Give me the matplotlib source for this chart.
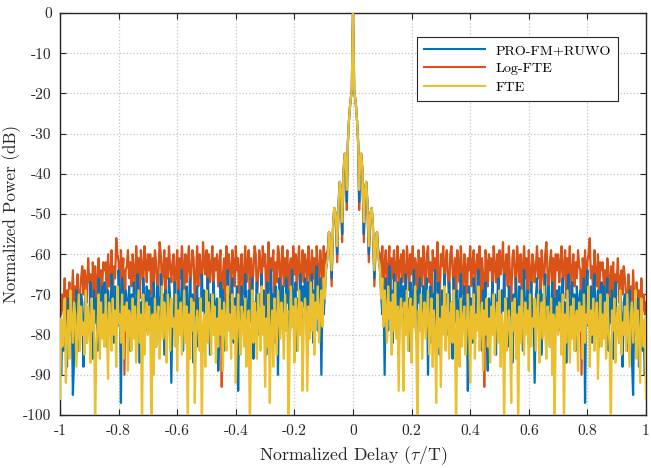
import numpy as np
import matplotlib
matplotlib.use('Agg')
import matplotlib.pyplot as plt

plt.rcParams['font.family'] = 'serif'
plt.rcParams['font.serif'] = ['cmr10']
plt.rcParams['mathtext.fontset'] = 'cm'
plt.rcParams['axes.unicode_minus'] = False
plt.rcParams['axes.formatter.use_mathtext'] = True

# positive-lag half of each autocorrelation (the curves are symmetric in tau)
# main lobe + near sidelobes
center_lags = [0, 0.002, 0.004, 0.007, 0.010, 0.014, 0.018, 0.021, 0.025, 0.028, 0.032, 0.037,
               0.041, 0.045, 0.049, 0.054, 0.059, 0.064, 0.068, 0.073, 0.078, 0.082, 0.086]
pro_fm_center = [0, -8, -19, -21, -23, -27, -33, -47, -36, -35, -39, -55,
                 -44, -42, -47, -60, -50, -48.5, -53, -66, -56, -54.5, -60]
log_fte_center = [0, -8, -19, -21, -23, -27, -33, -49, -36, -35, -39, -57,
                  -44, -42, -47, -62, -50, -48.5, -53, -68, -56, -54.5, -59]
fte_center = [0, -8, -19, -21, -23, -27, -33, -44, -36, -35, -39, -52,
              -44, -42, -47, -58, -50, -48.5, -53, -64, -56, -54.5, -61]

# sidelobe floor, lags 0.092 ... 1.0 in steps of 0.004
floor_start = 0.092
floor_step = 0.004

pro_fm_floor = [
    -64, -70, -75, -68, -90, -66, -72, -79, -63, -74, -69, -82, -65, -71, -77, -67, -85, -70, -66,
    -73, -68, -80, -65, -76, -71, -84, -67, -70, -78, -64, -74, -81, -69, -72, -66, -79, -75, -68,
    -71, -77, -66, -90, -73, -68, -82, -70, -75, -64, -79, -72, -67, -85, -74, -69, -78, -65, -76,
    -70, -80, -67, -74, -72, -86, -66, -77, -71, -69, -83, -73, -65, -78, -75, -68, -81, -72, -94,
    -68, -75, -71, -82, -66, -73, -79, -70, -64, -77, -72, -84, -69, -74, -67, -80, -89, -71, -76,
    -73, -67, -78, -70, -85, -72, -66, -76, -81, -69, -74, -65, -79, -71, -83, -68, -75, -72, -87,
    -70, -77, -66, -73, -80, -68, -75, -71, -84, -64, -78, -72, -69, -82, -74, -67, -79, -73, -92,
    -71, -66, -78, -73, -69, -85, -70, -76, -65, -80, -72, -68, -83, -74, -67, -77, -71, -79, -69,
    -74, -68, -79, -71, -66, -76, -72, -87, -69, -65, -81, -73, -67, -78, -70, -84, -68, -75, -72,
    -69, -76, -71, -66, -97, -70, -64, -78, -73, -68, -82, -71, -65, -77, -74, -69, -83, -70, -67,
    -75, -68, -80, -72, -66, -84, -71, -77, -69, -86, -73, -67, -79, -74, -82, -70, -76, -88, -72,
    -70, -78, -74, -83, -69, -76, -86, -95, -72, -80, -75, -71, -88, -77, -73, -84, -79, -90, -76,
]

log_fte_floor = [
    -60, -66, -58, -70, -62, -59, -68, -64, -58, -73, -61, -66, -59, -71, -63, -58, -69, -62, -60,
    -67, -59, -64, -72, -58, -62, -69, -60, -65, -58, -74, -61, -63, -70, -59, -66, -61, -68, -58,
    -63, -70, -60, -58, -67, -62, -76, -59, -64, -61, -69, -57, -65, -72, -60, -63, -58, -68, -62,
    -59, -66, -71, -60, -58, -64, -69, -61, -73, -59, -62, -67, -58, -65, -70, -60, -63, -78, -61,
    -64, -58, -68, -62, -59, -71, -63, -60, -66, -58, -72, -61, -65, -93, -59, -62, -68, -60, -64,
    -61, -69, -58, -63, -67, -60, -74, -59, -65, -62, -57, -70, -63, -60, -68, -58, -66, -72, -61,
    -59, -64, -70, -58, -62, -67, -60, -71, -63, -58, -66, -61, -69, -59, -64, -75, -60, -62, -67,
    -63, -58, -66, -61, -72, -59, -64, -68, -60, -57, -65, -70, -62, -59, -67, -61, -73, -60, -64,
    -60, -67, -62, -58, -69, -63, -59, -71, -61, -65, -58, -70, -64, -60, -68, -62, -66, -59, -63,
    -64, -90, -61, -67, -59, -70, -62, -60, -56, -66, -63, -71, -59, -65, -68, -60, -73, -62, -64,
    -62, -68, -64, -71, -61, -66, -73, -63, -69, -62, -75, -65, -67, -61, -72, -66, -64, -70, -63,
    -66, -70, -84, -65, -73, -68, -76, -64, -71, -78, -67, -72, -69, -77, -66, -74, -70, -75, -72,
]

fte_floor = [
    -63, -71, -66, -78, -69, -74, -82, -68, -76, -72, -85, -70, -79, -67, -81, -73, -94, -75, -71,
    -77, -94, -72, -80, -69, -84, -75, -71, -87, -73, -78, -68, -82, -104, -74, -79, -70, -86, -76,
    -72, -81, -75, -69, -85, -77, -71, -88, -74, -79, -97, -70, -83, -76, -93, -73, -80, -68, -84,
    -75, -70, -86, -78, -72, -82, -69, -80, -104, -74, -77, -88, -71, -83, -76, -73, -85, -79, -70,
    -78, -92, -73, -81, -70, -86, -75, -79, -68, -84, -77, -72, -89, -74, -80, -71, -83, -76, -87,
    -73, -80, -70, -85, -76, -72, -82, -69, -88, -75, -78, -104, -71, -84, -77, -74, -81, -97, -72,
    -79, -71, -86, -75, -104, -73, -82, -69, -77, -85, -72, -80, -74, -89, -70, -83, -76, -78, -71,
    -84, -74, -70, -87, -77, -72, -81, -68, -79, -86, -73, -76, -83, -71, -90, -75, -103, -78, -73,
    -80, -72, -77, -85, -70, -104, -75, -82, -69, -78, -87, -73, -81, -71, -84, -76, -74, -89, -72,
    -79, -73, -86, -70, -82, -75, -77, -68, -88, -74, -80, -71, -84, -76, -72, -91, -78, -70, -83,
    -75, -81, -72, -86, -70, -78, -83, -104, -74, -79, -71, -87, -76, -73, -82, -69, -85, -77, -80,
    -73, -84, -70, -79, -88, -75, -72, -82, -77, -69, -86, -74, -80, -92, -71, -78, -83, -76, -96,
]

x_ticks = [-1, -0.8, -0.6, -0.4, -0.2, 0, 0.2, 0.4, 0.6, 0.8, 1]
x_tick_labels = ['-1', '-0.8', '-0.6', '-0.4', '-0.2', '0', '0.2', '0.4', '0.6', '0.8', '1']
y_ticks = [0, -10, -20, -30, -40, -50, -60, -70, -80, -90, -100]
y_tick_labels = ['0', '-10', '-20', '-30', '-40', '-50', '-60', '-70', '-80', '-90', '-100']


def full_curve(center, floor):
    lags = np.concatenate([center_lags, floor_start + floor_step * np.arange(len(floor))])
    vals = np.concatenate([center, floor])
    tau = np.concatenate([-lags[:0:-1], lags])
    power = np.concatenate([vals[:0:-1], vals])
    return tau, power


fig = plt.figure(figsize=(6.51, 4.68), dpi=100)
ax = fig.add_axes([60 / 651, 1 - 415 / 468, 586 / 651, 402 / 468])

t, p = full_curve(log_fte_center, log_fte_floor)
l_log, = ax.plot(t, p, color='#D95319', lw=1.6, zorder=2, label='Log-FTE')
t, p = full_curve(pro_fm_center, pro_fm_floor)
l_pro, = ax.plot(t, p, color='#0072BD', lw=1.6, zorder=3, label='PRO-FM+RUWO')
t, p = full_curve(fte_center, fte_floor)
l_fte, = ax.plot(t, p, color='#EBC02C', lw=1.6, zorder=4, label='FTE')

ax.set_xlim(-1, 1)
ax.set_ylim(-100, 0)
ax.set_xticks(x_ticks)
ax.set_xticklabels(x_tick_labels)
ax.set_yticks(y_ticks)
ax.set_yticklabels(y_tick_labels)
ax.tick_params(direction='in', top=True, right=True, length=4, width=0.8,
               labelsize=11.2, colors='#262626')
ax.tick_params(axis='x', pad=7)
ax.tick_params(axis='y', pad=6)
for s in ax.spines.values():
    s.set_color('#262626')
    s.set_linewidth(1.0)
ax.grid(True, color='#c4c4c4', linestyle=':', linewidth=0.9)
ax.set_axisbelow(True)

ax.set_xlabel(r'Normalized Delay ($\tau$/T)', fontsize=12.8, color='#262626', labelpad=4)
ax.set_ylabel('Normalized Power (dB)', fontsize=12.3, color='#262626', labelpad=2)

leg = ax.legend(handles=[l_pro, l_log, l_fte], loc='upper right',
                bbox_to_anchor=(0.953, 0.940), borderaxespad=0, fontsize=10.2,
                handlelength=4.3, fancybox=False, framealpha=1, edgecolor='#262626',
                borderpad=0.5, labelspacing=0.38)
leg.get_frame().set_linewidth(0.8)
for h in leg.get_lines():
    h.set_linewidth(1.5)

fig.savefig('out.png', dpi=100)
plt.close(fig)
